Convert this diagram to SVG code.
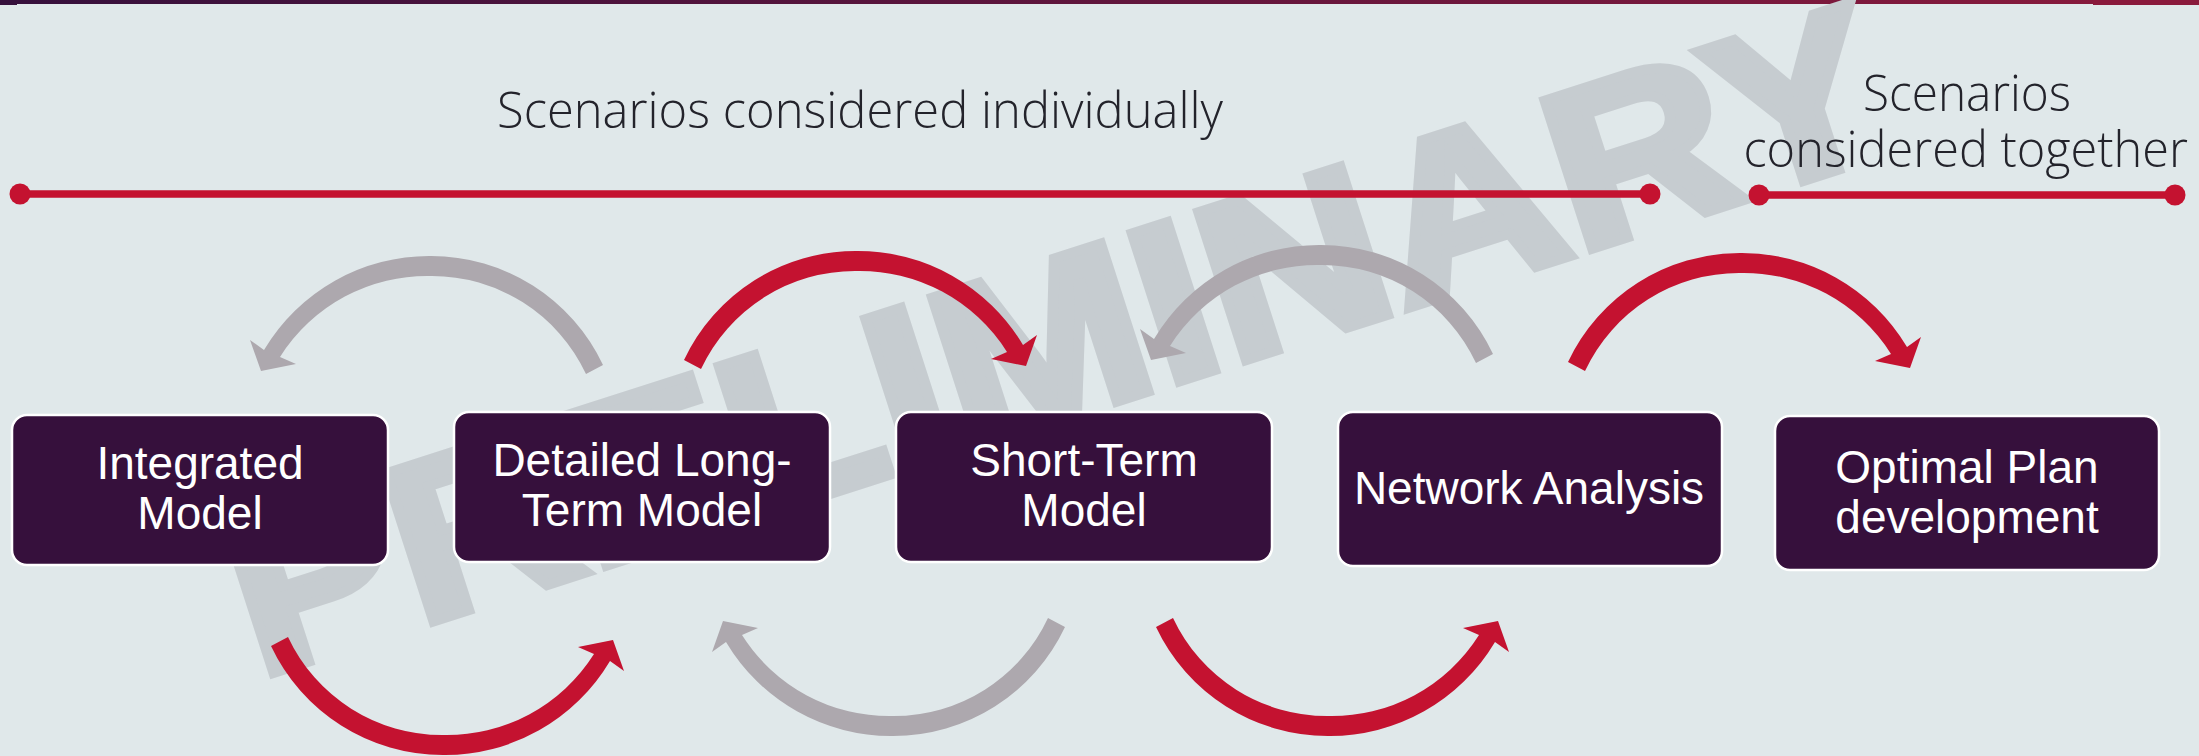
<svg xmlns="http://www.w3.org/2000/svg" width="2199" height="756" viewBox="0 0 2199 756">
<style>
.node{fill:#36103C;stroke:#fff;stroke-width:2.5}
.nt{font-family:"Liberation Sans",Arial,sans-serif;font-size:46px;fill:#fff;text-anchor:middle}
.hd{font-family:"Open Sans","Noto Sans",sans-serif;font-weight:300;font-size:50px;fill:#23232B}
.red{fill:#C41230}.gray{fill:#ADA8AE}
.rule{stroke:#C41230;stroke-width:7.5;fill:none}
.dot{fill:#C41230}
</style>
<defs>
<linearGradient id="bar" x1="0" x2="1" y1="0" y2="0"><stop offset="0" stop-color="#36103C"/><stop offset="1" stop-color="#8A1A3C"/></linearGradient>
<path id="arc" d="M-172,109A190,190 0 0 1 0,0A192,192 0 0 1 167,94L181,84L170,115L135,108L151,101A174,174 0 0 0 0,20A170,170 0 0 0 -155,118Z"/>
</defs>
<rect width="2199" height="756" fill="#E0E8EA"/>
<rect width="2199" height="4" fill="url(#bar)"/>
<rect width="17" height="5" fill="#36103C"/>
<rect x="2093" width="106" height="5" fill="#8A1A3C"/>
<text id="watermark" transform="translate(258 678) rotate(-17.83)" font-family="Liberation Sans,Arial,sans-serif" font-weight="700" font-size="226" fill="#C6CCD0" stroke="#C6CCD0" stroke-width="10" textLength="1726" lengthAdjust="spacingAndGlyphs">PRELIMINARY</text>
<g id="headings">
<text class="hd" x="497" y="128" textLength="726" lengthAdjust="spacingAndGlyphs">Scenarios considered individually</text>
<text class="hd" x="1863" y="111" textLength="208" lengthAdjust="spacingAndGlyphs">Scenarios</text>
<text class="hd" x="1743.5" y="167" textLength="444.5" lengthAdjust="spacingAndGlyphs">considered together</text>
</g>
<g id="timelines">
<path class="rule" d="M20,194H1650M1759,195H2175"/>
<circle class="dot" cx="20" cy="194" r="10.5"/><circle class="dot" cx="1650" cy="194" r="10.5"/>
<circle class="dot" cx="1759" cy="195" r="10.5"/><circle class="dot" cx="2175" cy="195" r="10.5"/>
</g>
<g id="connectors">
<use href="#arc" class="gray" transform="translate(431 256) scale(-1 1)"/>
<use href="#arc" class="red" transform="translate(856 251)"/>
<use href="#arc" class="gray" transform="translate(1321 245) scale(-1 1)"/>
<use href="#arc" class="red" transform="translate(1740 253)"/>
<use href="#arc" class="red" transform="translate(443 755) scale(1 -1)"/>
<use href="#arc" class="gray" transform="translate(893 736) scale(-1 -1)"/>
<use href="#arc" class="red" transform="translate(1328 736) scale(1 -1)"/>
</g>
<g id="node-integrated"><rect class="node" x="12" y="415" width="376" height="150" rx="15"/><text class="nt" x="200" y="479">Integrated</text><text class="nt" x="200" y="529">Model</text></g>
<g id="node-detailed"><rect class="node" x="454" y="412" width="376" height="150" rx="15"/><text class="nt" x="642" y="476">Detailed Long-</text><text class="nt" x="642" y="526">Term Model</text></g>
<g id="node-short"><rect class="node" x="896" y="412" width="376" height="150" rx="15"/><text class="nt" x="1084" y="476">Short-Term</text><text class="nt" x="1084" y="526">Model</text></g>
<g id="node-network"><rect class="node" x="1338" y="412" width="384" height="154" rx="15"/><text class="nt" x="1529" y="504">Network Analysis</text></g>
<g id="node-optimal"><rect class="node" x="1775" y="416" width="384" height="154" rx="15"/><text class="nt" x="1967" y="483">Optimal Plan</text><text class="nt" x="1967" y="533">development</text></g>
</svg>
